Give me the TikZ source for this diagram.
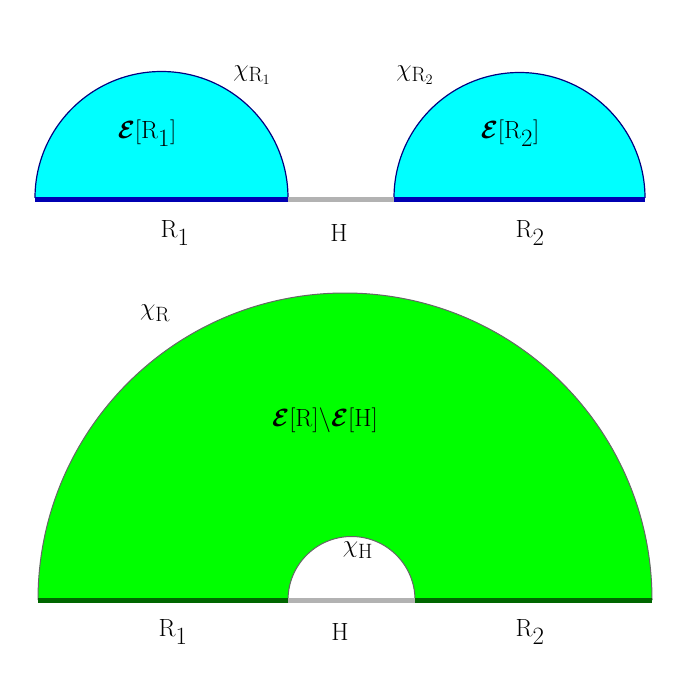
\documentclass[tikz,border=0pt]{standalone}
\usepackage{amsmath, amssymb}
\usepackage{bm}
\usepackage{tikz}

\definecolor{aqua}{RGB}{0,255,255}
\definecolor{lime}{RGB}{0,255,0}
\tikzset{
  lbl/.style={font=\fontsize{36}{40}\selectfont},
  chi/.style={font=\fontsize{30}{32}\selectfont},
  base/.style={line width=5pt},
}

\begin{document}
\begin{tikzpicture}[x=1pt,y=-1pt]
        \useasboundingbox (0,0) rectangle (693,677);

        % top half discs
        \fill[aqua] (35,198) arc[start angle=180,end angle=360,radius=126.5] -- cycle;
        \draw[blue!50!black,line width=1.2pt] (35,198) arc[start angle=180,end angle=360,radius=126.5];
        \fill[aqua] (394,198) arc[start angle=180,end angle=360,radius=125.5] -- cycle;
        \draw[blue!50!black,line width=1.2pt] (394,198) arc[start angle=180,end angle=360,radius=125.5];

        \coordinate (a1) at (35,199);
        \coordinate (a2) at (288,199);
        \coordinate (a3) at (394,199);
        \coordinate (a4) at (645,199);
        \draw[base,blue!70!black] (a1) -- (a2);
        \draw[base,gray!60] (a2) -- (a3);
        \draw[base,blue!70!black] (a3) -- (a4);

        \node[lbl] (r1) at (175,233) {$\mathrm{R}_1$};
        \node[lbl] (h) at (339,233) {$\mathrm{H}$};
        \node[lbl] (r2) at (530,233) {$\mathrm{R}_2$};
        \node[chi] (c1) at (252,75) {$\chi_{\mathrm{R}_1}$};
        \node[chi] (c2) at (415,75) {$\chi_{\mathrm{R}_2}$};
        \node[lbl] (e1) at (147,133) {$\bm{\mathcal{E}}[\mathrm{R}_1]$};
        \node[lbl] (e2) at (510,133) {$\bm{\mathcal{E}}[\mathrm{R}_2]$};

        % bottom annulus
        \fill[lime] (38,600) arc[start angle=180,end angle=360,radius=307]
          -- (415,600) arc[start angle=360,end angle=180,radius=63.5] -- cycle;
        \draw[gray!80!black,line width=1pt] (38,600) arc[start angle=180,end angle=360,radius=307];
        \draw[gray!80!black,line width=1pt] (415,600) arc[start angle=360,end angle=180,radius=63.5];

        \coordinate (b1) at (38,600);
        \coordinate (b2) at (288,600);
        \coordinate (b3) at (415,600);
        \coordinate (b4) at (652,600);
        \draw[base,green!40!black] (b1) -- (b2);
        \draw[base,gray!60] (b2) -- (b3);
        \draw[base,green!40!black] (b3) -- (b4);

        \node[lbl] (br1) at (173,632) {$\mathrm{R}_1$};
        \node[lbl] (bh) at (340,632) {$\mathrm{H}$};
        \node[lbl] (br2) at (530,632) {$\mathrm{R}_2$};
        \node[chi] (cr) at (155,313) {$\chi_{\mathrm{R}}$};
        \node[chi] (ch) at (358,550) {$\chi_{\mathrm{H}}$};
        \node[lbl] (er) at (325,420) {$\bm{\mathcal{E}}[\mathrm{R}]\backslash\bm{\mathcal{E}}[\mathrm{H}]$};
\end{tikzpicture}
\end{document}
